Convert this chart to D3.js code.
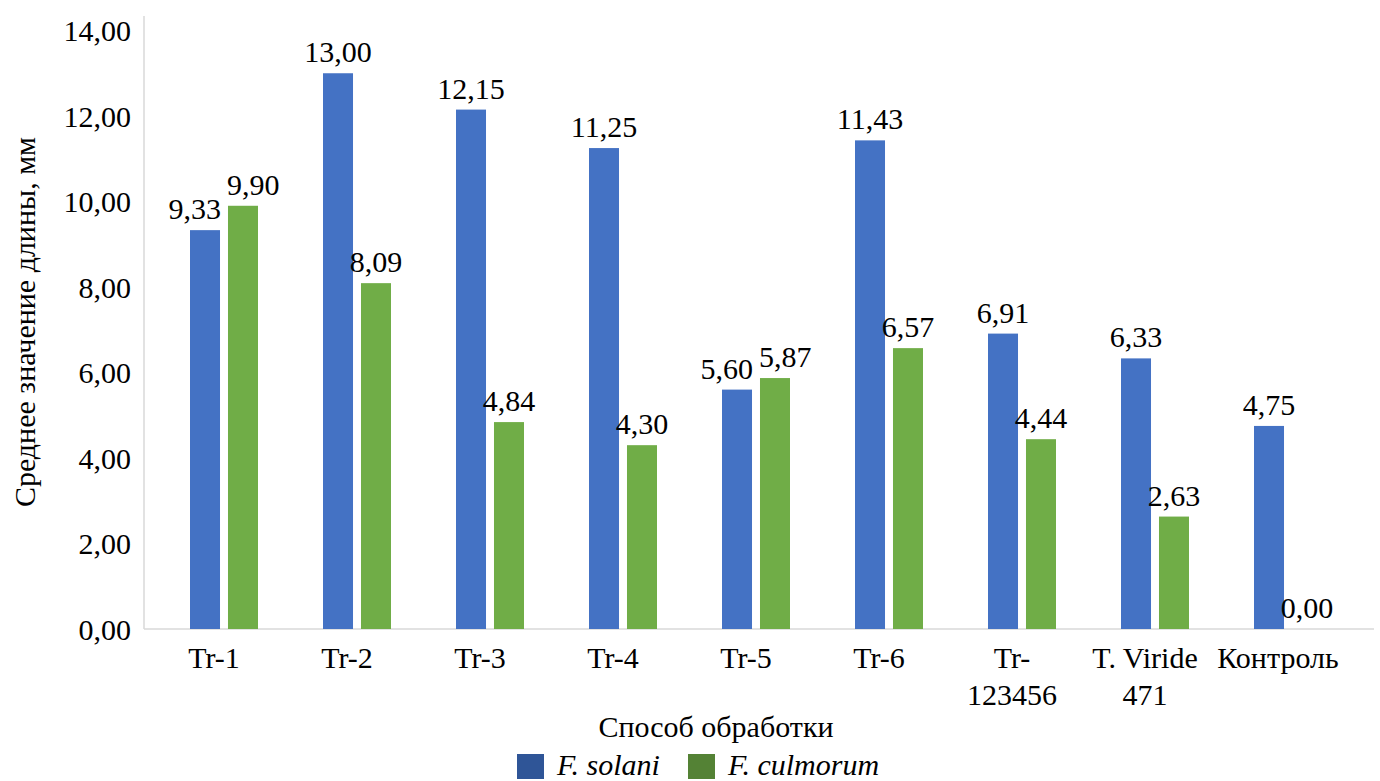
<!DOCTYPE html>
<html><head><meta charset="utf-8">
<script src="https://cdn.jsdelivr.net/npm/d3@7/dist/d3.min.js"></script>
</head>
<body style="margin:0">
<svg id="chart" width="1380" height="781" style="font-family:'Liberation Serif'"></svg>
<script>
const categories = [["Tr-1"],["Tr-2"],["Tr-3"],["Tr-4"],["Tr-5"],["Tr-6"],["Tr-","123456"],["T. Viride","471"],["Контроль"]];
const seriesNames = ["F. solani","F. culmorum"];
const solani = [9.33,13.00,12.15,11.25,5.60,11.43,6.91,6.33,4.75];
const culmorum = [9.90,8.09,4.84,4.30,5.87,6.57,4.44,2.63,0.00];
const yTicks = [0,2,4,6,8,10,12,14];
const barColors = ["#4472C4","#70AD47"];
const legendColors = ["#2F5597","#548235"];
const yTitle = "Среднее значение длины, мм";
const xTitle = "Способ обработки";

const FONT = "'Liberation Serif'";
const fmt = v => v.toFixed(2).replace(".", ",");
const svg = d3.select("#chart");
const FS = 30;
function txt(sel){ return sel.attr("font-family","Liberation Serif").style("font-family",FONT,"important").attr("font-size",FS).attr("fill","#000"); }

const y = d3.scaleLinear().domain([0,14]).range([629,30.5]);
const x0 = d3.scaleBand().domain(d3.range(categories.length)).range([157.5,1354.5]).padding(0);
const groupW = 68;
const x1 = d3.scaleBand().domain([0,1]).range([(x0.bandwidth()-groupW)/2,(x0.bandwidth()+groupW)/2]).paddingInner(0.21);

// axis lines
svg.append("line").attr("x1",144).attr("x2",144).attr("y1",16).attr("y2",y(0)).attr("stroke","#d9d9d9").attr("stroke-width",1.5);
svg.append("line").attr("x1",144).attr("x2",1374).attr("y1",y(0)).attr("y2",y(0)).attr("stroke","#d9d9d9").attr("stroke-width",1.5);

// y tick labels
const yAxis = d3.axisLeft(y).tickValues(yTicks).tickFormat(fmt).tickSize(0).tickPadding(0);
const gy = svg.append("g").attr("transform","translate(131,0)").call(yAxis);
gy.select(".domain").remove();
gy.attr("font-family","Liberation Serif").attr("font-size",FS);
txt(gy.selectAll("text")).attr("dy","0.34em");

// bars
const data = categories.map((c,i)=>({i, vals:[solani[i],culmorum[i]]}));
const groups = svg.append("g").selectAll("g").data(data).join("g")
  .attr("transform",d=>`translate(${x0(d.i)},0)`);
groups.selectAll("rect").data(d=>d.vals.map((v,s)=>({v,s}))).join("rect")
  .attr("x",d=>x1(d.s)).attr("width",x1.bandwidth())
  .attr("y",d=>y(d.v)).attr("height",d=>y(0)-y(d.v))
  .attr("fill",d=>barColors[d.s]);

// data labels with simple overlap resolution
const labelG = svg.append("g");
data.forEach(d=>{
  const items = d.vals.map((v,s)=>({v,s,cx:x0(d.i)+x1(s)+x1.bandwidth()/2,by:y(v)-11}));
  const nodes = items.map(it=>txt(labelG.append("text")).attr("x",it.cx).attr("y",it.by)
    .attr("text-anchor","middle").text(fmt(it.v)));
  const b0 = nodes[0].node().getBBox(), b1 = nodes[1].node().getBBox();
  const overlapX = (b0.x+b0.width) - b1.x;
  const overlapY = Math.min(b0.y+b0.height,b1.y+b1.height) - Math.max(b0.y,b1.y);
  if (overlapX>-6 && overlapY>0) {
    const shift = (overlapX+6)/2;
    nodes[0].attr("x",items[0].cx-shift);
    nodes[1].attr("x",items[1].cx+shift);
  }
});

// x category labels
const xl = svg.append("g");
categories.forEach((lines,i)=>{
  const cx = x0(i)+x0.bandwidth()/2-10;
  const t = txt(xl.append("text")).attr("x",cx).attr("y",668).attr("text-anchor","middle");
  lines.forEach((ln,k)=>t.append("tspan").attr("x",cx).attr("dy",k===0?0:37).text(ln));
});

// axis titles
txt(svg.append("text")).attr("transform","translate(35,322) rotate(-90)").attr("text-anchor","middle").text(yTitle);
txt(svg.append("text")).attr("x",716).attr("y",737).attr("text-anchor","middle").text(xTitle);

// legend
const lg = svg.append("g");
const lx = [517,688];
seriesNames.forEach((n,s)=>{
  lg.append("rect").attr("x",lx[s]).attr("y",754).attr("width",27).attr("height",25).attr("fill",legendColors[s]);
  txt(lg.append("text")).attr("x",lx[s]+40).attr("y",775).attr("font-style","italic").text(n);
});
</script>
</body></html>
